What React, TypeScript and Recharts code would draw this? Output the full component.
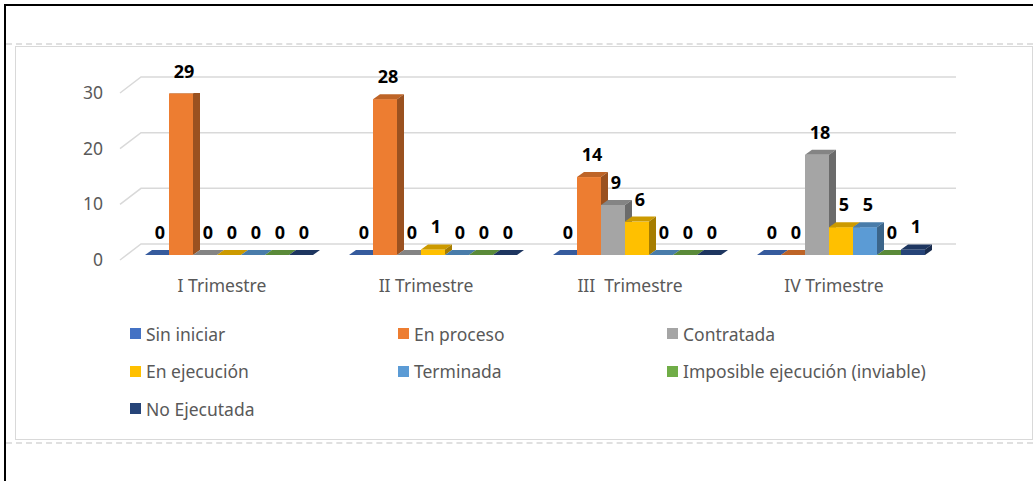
import React from 'react';
import { BarChart, Bar, XAxis, YAxis, CartesianGrid, LabelList, Legend } from 'recharts';

const categories = ['I Trimestre', 'II Trimestre', 'III  Trimestre', 'IV Trimestre'];
const seriesNames = [
  'Sin iniciar',
  'En proceso',
  'Contratada',
  'En ejecución',
  'Terminada',
  'Imposible ejecución (inviable)',
  'No Ejecutada',
];
const sinIniciar = [0, 0, 0, 0];
const enProceso = [29, 28, 14, 0];
const contratada = [0, 0, 9, 18];
const enEjecucion = [0, 1, 6, 5];
const terminada = [0, 0, 0, 5];
const imposible = [0, 0, 0, 0];
const noEjecutada = [0, 0, 0, 1];
const yTicks = [0, 10, 20, 30];
const seriesColors = ['#4472C4', '#ED7D31', '#A5A5A5', '#FFC000', '#5B9BD5', '#70AD47', '#264478'];

const seriesValues = [sinIniciar, enProceso, contratada, enEjecucion, terminada, imposible, noEjecutada];
const keys = seriesNames.map((_, i) => 's' + i);
const data = categories.map((c, ci) => {
  const row: Record<string, any> = { name: c };
  keys.forEach((k, si) => {
    row[k] = seriesValues[si][ci];
  });
  return row;
});

const FONT = '"Noto Sans", "Open Sans", sans-serif';
const GRAY_TEXT = '#595959';
const DX = 7;
const DY = 5;
const SHIFT_X = 7;
const SHIFT_Y = -5;

function shade(hex: string, f: number) {
  const n = parseInt(hex.slice(1), 16);
  const r = Math.round(((n >> 16) & 255) * f);
  const g = Math.round(((n >> 8) & 255) * f);
  const b = Math.round((n & 255) * f);
  return `rgb(${r},${g},${b})`;
}

const makeShape = (color: string) => (props: any) => {
  const { x, y, width, height } = props;
  if (x == null || y == null) return null;
  const h = Math.max(Number(height) || 0, 0);
  const x0 = x + SHIFT_X;
  const yTop = y + SHIFT_Y;
  const yb = yTop + h;
  const w = width;
  return (
    <g>
      {h > 0 && <rect x={x0} y={yTop} width={w} height={h} fill={color} />}
      <path
        d={`M${x0},${yTop} L${x0 + DX},${yTop - DY} L${x0 + w + DX},${yTop - DY} L${x0 + w},${yTop} Z`}
        fill={shade(color, 0.8)}
      />
      <path
        d={`M${x0 + w},${yTop} L${x0 + w + DX},${yTop - DY} L${x0 + w + DX},${yb - DY} L${x0 + w},${yb} Z`}
        fill={shade(color, 0.65)}
      />
    </g>
  );
};

const renderLabel = (props: any) => {
  const { x, y, width, value } = props;
  if (x == null || y == null) return null;
  return (
    <text
      x={x + SHIFT_X + width / 2 + 3}
      y={y + SHIFT_Y - 16}
      textAnchor="middle"
      fontFamily={FONT}
      fontWeight="bold"
      fontSize={18}
      fill="#000"
    >
      {value}
    </text>
  );
};

const gridLine = (props: any) => {
  const { x1, y1, x2, key } = props;
  return (
    <path
      key={key}
      d={`M${x1},${y1} L${x1 + 21},${y1 - 16} L${x2 + 20},${y1 - 16}`}
      stroke="#D9D9D9"
      strokeWidth={1.5}
      fill="none"
    />
  );
};

const YTick = (props: any) => {
  const { x, y, payload } = props;
  return (
    <text x={x - 17} y={y + 6} textAnchor="end" fontFamily={FONT} fontSize={17.5} fill={GRAY_TEXT}>
      {payload.value}
    </text>
  );
};

const XTick = (props: any) => {
  const { x, y, payload } = props;
  return (
    <text
      x={x}
      y={y + 32}
      textAnchor="middle"
      fontFamily={FONT}
      fontSize={17.5}
      fill={GRAY_TEXT}
      style={{ whiteSpace: 'pre' }}
    >
      {payload.value}
    </text>
  );
};

const LegendContent = () => (
  <div
    style={{
      display: 'grid',
      gridTemplateColumns: '268px 269px 290px',
      gridAutoRows: '37.5px',
      fontFamily: FONT,
      fontSize: 17.5,
      color: GRAY_TEXT,
    }}
  >
    {seriesNames.map((n, i) => (
      <div key={n} style={{ display: 'flex', alignItems: 'center', whiteSpace: 'nowrap' }}>
        <span
          style={{
            display: 'inline-block',
            width: 11,
            height: 11,
            background: seriesColors[i],
            marginRight: 5,
          }}
        />
        <span>{n}</span>
      </div>
    ))}
  </div>
);

export default function App() {
  return (
    <div
      style={{
        position: 'absolute',
        left: 0,
        top: 0,
        width: 1033,
        height: 481,
        background: '#fff',
        overflow: 'hidden',
      }}
    >
      <div style={{ position: 'absolute', left: 4, top: 4, width: 1029, height: 2, background: '#000' }} />
      <div style={{ position: 'absolute', left: 4, top: 4, width: 2, height: 477, background: '#000' }} />
      <div style={{ position: 'absolute', left: 6, top: 43, width: 1027, height: 0, borderTop: '2px dashed #E0E0E0' }} />
      <div style={{ position: 'absolute', left: 6, top: 442, width: 1027, height: 0, borderTop: '2px dashed #E0E0E0' }} />
      <div
        style={{
          position: 'absolute',
          left: 15,
          top: 46,
          width: 1016,
          height: 392,
          border: '1px solid #D9D9D9',
        }}
      />
      <div style={{ position: 'absolute', left: 0, top: 0 }}>
        <BarChart
          width={1033}
          height={481}
          data={data}
          margin={{ top: 93, right: 97, bottom: 191, left: 60 }}
          barGap={0}
          barSize={24}
        >
          <CartesianGrid vertical={false} horizontal={gridLine} />
          <XAxis
            dataKey="name"
            axisLine={false}
            tickLine={false}
            tickSize={0}
            tickMargin={0}
            height={30}
            tick={<XTick />}
            interval={0}
          />
          <YAxis
            width={60}
            domain={[0, 30]}
            ticks={yTicks}
            axisLine={false}
            tickLine={false}
            tickSize={0}
            tickMargin={0}
            tick={<YTick />}
            allowDataOverflow
          />
          <Legend
            layout="horizontal"
            verticalAlign="middle"
            align="center"
            content={<LegendContent />}
            wrapperStyle={{ position: 'absolute', left: 130, top: 315, width: 840, height: 115, margin: 0 }}
          />
          {keys.map((k, i) => (
            <Bar
              key={k}
              dataKey={k}
              name={seriesNames[i]}
              fill={seriesColors[i]}
              shape={makeShape(seriesColors[i])}
              isAnimationActive={false}
            >
              <LabelList dataKey={k} content={renderLabel} />
            </Bar>
          ))}
        </BarChart>
      </div>
    </div>
  );
}
